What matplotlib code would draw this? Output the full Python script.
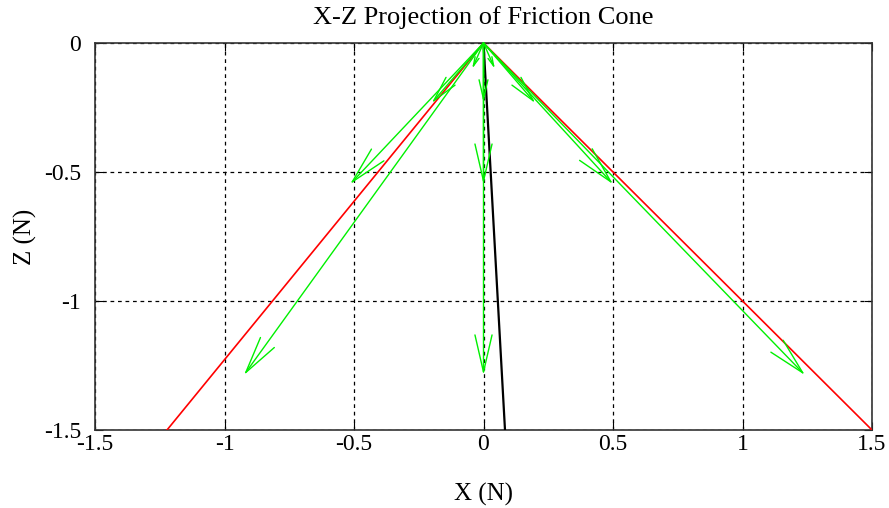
import numpy as np
from matplotlib import pyplot as plt

# friction cone edges and contact normal (x, z)
cone_x = [-1.222, 0.0, 1.5]
cone_z = [-1.5, 0.0, -1.5]
normal_x = [0.0, 0.083]
normal_z = [0.0, -1.5]

# force vectors, all starting at the contact point
force_x = [-0.925, -0.515, -0.2, -0.044, 0.0, 0.0, 0.0, 0.044, 0.2, 0.5, 1.241]
force_z = [-1.287, -0.547, -0.233, -0.1, -0.229, -0.547, -1.287, -0.1, -0.233, -0.547, -1.287]

ticks = [-1.5, -1, -0.5, 0, 0.5, 1, 1.5]
tick_labels = ['-1.5', '-1', '-0.5', '0', '0.5', '1', '1.5']
zticks = [-1.5, -1, -0.5, 0]
ztick_labels = ['-1.5', '-1', '-0.5', '0']

plt.rcParams['font.family'] = ['Liberation Serif', 'DejaVu Serif']

fig = plt.figure(figsize=(8.89, 5.08), dpi=100)
ax = fig.add_axes([95 / 889, 1 - 430 / 508, 777 / 889, 387 / 508])
ax.set_xlim(-1.5, 1.5)
ax.set_ylim(-1.5, 0)

ax.set_xticks(ticks)
ax.set_xticklabels(tick_labels)
ax.set_yticks(zticks)
ax.set_yticklabels(ztick_labels)
ax.tick_params(direction='in', length=6, top=True, right=True, labelsize=17)
ax.tick_params(axis='x', pad=3)
ax.tick_params(axis='y', pad=10)
ax.grid(True, color='black', linestyle=(0, (3, 3)), linewidth=0.9)
for s in ax.spines.values():
    s.set_linewidth(1.2)
    s.set_color('#333333')

ax.plot(cone_x, cone_z, color='#ff0000', lw=1.2, zorder=3)
ax.plot(normal_x, normal_z, color='black', lw=1.6, zorder=3)

# arrow heads sized in pixels, shorter arrows get smaller heads
half_angle = np.radians(13)
p0 = ax.transData.transform((0, 0))
for fx, fz in zip(force_x, force_z):
    p1 = ax.transData.transform((fx, fz))
    L = np.hypot(*(p1 - p0))
    h = min(L / 3, 38) * 72 / 100
    hl = h * np.cos(half_angle)
    hw = h * np.sin(half_angle)
    ax.annotate('', xy=(fx, fz), xytext=(0, 0),
                arrowprops=dict(arrowstyle=f'->,head_length={hl},head_width={hw}',
                                color='#00f000', lw=1.0, shrinkA=0, shrinkB=0,
                                mutation_scale=1),
                zorder=4)

ax.set_title('X-Z Projection of Friction Cone', fontsize=19, pad=14)
ax.set_xlabel('X (N)', fontsize=18, labelpad=20)
ax.set_ylabel('Z (N)', fontsize=18, labelpad=5)

fig.savefig('out.png', dpi=100)
